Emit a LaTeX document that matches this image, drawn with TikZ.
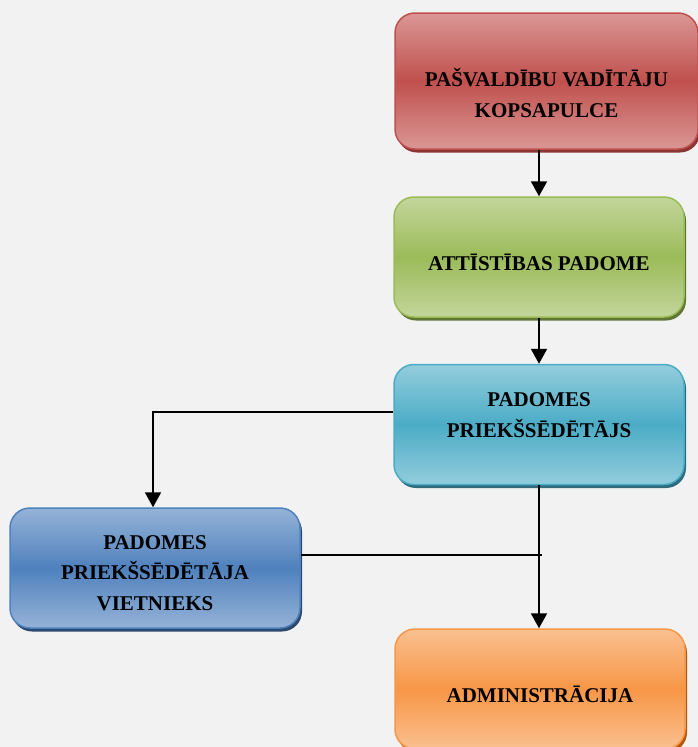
\documentclass[tikz,border=0pt]{standalone}
\usepackage{fontspec}
\setmainfont{Liberation Serif}
\usetikzlibrary{arrows.meta, shadows}

\definecolor{bg}{HTML}{F2F2F2}
\definecolor{kopslight}{HTML}{DA9795}
\definecolor{kopsmid}{HTML}{C0504D}
\definecolor{kopsdark}{HTML}{8A3634}
\definecolor{attlight}{HTML}{C3D69B}
\definecolor{attmid}{HTML}{9BBB59}
\definecolor{attdark}{HTML}{607634}
\definecolor{priklight}{HTML}{93CDDD}
\definecolor{prikmid}{HTML}{4BACC6}
\definecolor{prikdark}{HTML}{2E6B7C}
\definecolor{vietlight}{HTML}{95B3D7}
\definecolor{vietmid}{HTML}{4F81BD}
\definecolor{vietdark}{HTML}{2C4A70}
\definecolor{admlight}{HTML}{FAC090}
\definecolor{admmid}{HTML}{F79646}
\definecolor{admdark}{HTML}{B65708}

\begin{document}
\begin{tikzpicture}[x=1pt, y=-1pt,
    box/.style={rounded corners=20pt, minimum width=290pt, minimum height=120pt,
        line width=1.5pt, draw=#1mid, top color=#1light, bottom color=#1light, middle color=#1mid,
        general shadow={fill=#1dark, shadow xshift=2pt, shadow yshift=-3.5pt}},
    txt/.style={align=center, font=\fontsize{21}{30.5}\selectfont\bfseries},
    arr/.style={->, >={Triangle[length=15pt, width=16pt]}, line width=2pt},
    link/.style={line width=1.3pt}]
    \fill[bg] (0,0) rectangle (698,747);
    \useasboundingbox (0,0) rectangle (698,747);

    \node[box=kops, minimum width=303pt, minimum height=136pt,
        label={[txt, yshift=-12pt]center:{PAŠVALDĪBU VADĪTĀJU\\KOPSAPULCE}}] (kops) at (546.5,81) {};
    \node[box=att, label={[txt, yshift=-5pt]center:{ATTĪSTĪBAS PADOME}}] (att) at (539,257) {};
    \node[box=prik, label={[txt, yshift=9.5pt]center:{PADOMES\\PRIEKŠSĒDĒTĀJS}}] (prik) at (539,424.5) {};
    \node[box=viet, label={[txt, yshift=-5pt]center:{PADOMES\\PRIEKŠSĒDĒTĀJA\\VIETNIEKS}}] (viet) at (155,568) {};
    \node[box=adm, label={[txt, yshift=-5pt]center:{ADMINISTRĀCIJA}}] (adm) at (540,689) {};

    \coordinate (prikleft) at ([yshift=12.5pt]prik.west);
    \coordinate (vietright) at ([yshift=13pt]viet.east);

    \draw[arr] (att.north |- kops.south) -- (att.north);
    \draw[arr] (att.south) -- (prik.north);
    \draw[arr] (prikleft) -| ([xshift=-2pt]viet.north);
    \draw[arr] (prik.south) -- (prik.south |- adm.north);
    \draw[link, shorten >=-3pt] (vietright) -- (vietright -| prik.south);
\end{tikzpicture}
\end{document}
